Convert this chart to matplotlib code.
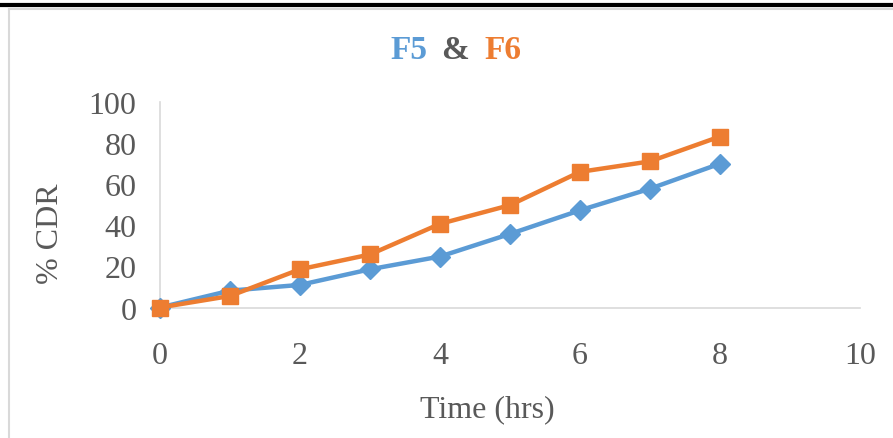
import matplotlib.pyplot as plt
from matplotlib.lines import Line2D

# release data
time_hrs = [0, 1, 2, 3, 4, 5, 6, 7, 8]
f5_cdr = [0, 8.2, 11.0, 18.6, 24.8, 35.8, 47.3, 57.8, 70.0]
f6_cdr = [0, 5.6, 18.6, 25.8, 40.7, 49.8, 66.0, 71.1, 83.2]
x_ticks = [0, 2, 4, 6, 8, 10]
y_ticks = [0, 20, 40, 60, 80, 100]

BLUE = '#5B9BD5'
ORANGE = '#ED7D31'
TEXT = '#595959'
GRID = '#D9D9D9'

plt.rcParams['font.family'] = ['Liberation Serif', 'DejaVu Serif']

W, H = 893, 439
fig = plt.figure(figsize=(W / 100, H / 100), dpi=100)


def fx(px):
    return px / W


def fy(py):
    return 1 - py / H


# page decoration: thick black rule and the chart frame
fig.add_artist(Line2D([0, 1], [fy(5.8), fy(5.8)], color='black', lw=3, transform=fig.transFigure))
fig.add_artist(Line2D([fx(9), fx(9)], [fy(10), 0], color=GRID, lw=1.5, transform=fig.transFigure))
fig.add_artist(Line2D([fx(9), 1], [fy(10), fy(10)], color=GRID, lw=1.5, transform=fig.transFigure))

left, right, top, bottom = 160, 860, 103, 308.5
ax = fig.add_axes([fx(left), fy(bottom), fx(right - left), (bottom - top) / H])

ax.plot(time_hrs, f5_cdr, color=BLUE, lw=3.2, marker='D', ms=10.5, clip_on=False, zorder=3)
ax.plot(time_hrs, f6_cdr, color=ORANGE, lw=3.2, marker='s', ms=12, clip_on=False, zorder=4)

ax.set_xlim(0, 10)
ax.set_ylim(0, 100)
ax.set_xticks(x_ticks)
ax.set_yticks(y_ticks)
ax.tick_params(length=0, labelsize=23, labelcolor=TEXT)
ax.tick_params(axis='x', pad=24)
ax.tick_params(axis='y', pad=17)
for s in ['top', 'right']:
    ax.spines[s].set_visible(False)
for s in ['left', 'bottom']:
    ax.spines[s].set_color(GRID)
    ax.spines[s].set_linewidth(1.2)

fig.text(fx(50), fy(234), '% CDR', rotation=90, ha='center', va='center', fontsize=23, color=TEXT)
fig.text(fx(487), fy(410), 'Time (hrs)', ha='center', va='center', fontsize=23, color=TEXT)

# title in three colours
fig.text(fx(409), fy(59), 'F5', ha='center', va='baseline', fontsize=24, fontweight='bold', color=BLUE)
fig.text(fx(455), fy(59), '&', ha='center', va='baseline', fontsize=24, fontweight='bold', color=TEXT)
fig.text(fx(503), fy(59), 'F6', ha='center', va='baseline', fontsize=24, fontweight='bold', color=ORANGE)

fig.savefig('out.png', dpi=100)
